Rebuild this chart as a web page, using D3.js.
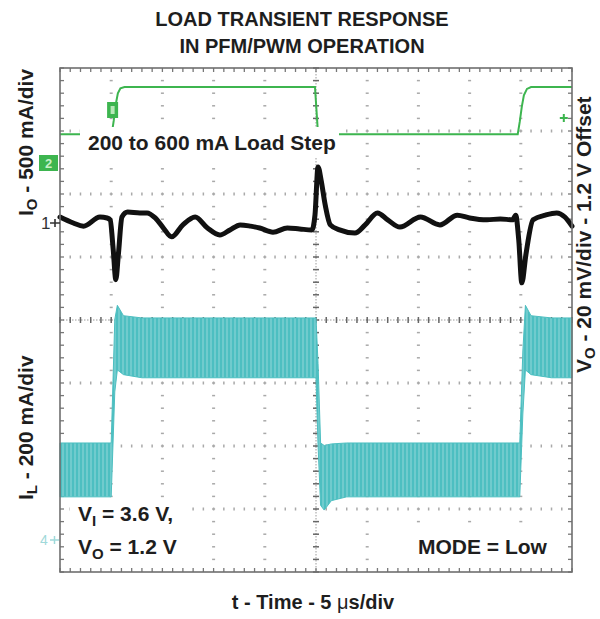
<!DOCTYPE html>
<html><head><meta charset="utf-8">
<script src="https://cdn.jsdelivr.net/npm/d3@7"></script>
<style>
body{margin:0;background:#fff}
svg{display:block}
text{font-family:"Liberation Sans",Arial,Helvetica,sans-serif;font-weight:bold;fill:#1e1e1e}
</style>
</head><body>
<svg id="chart" width="600" height="619"></svg>
<script>
// ---------------- data ----------------
// Load current I_O (mA) vs time (µs)
const ioTime  = [0, 5.05, 5.25, 5.45, 5.65, 5.9, 6.3, 24.9, 25.2, 44.7, 44.9, 45.1, 45.3, 45.6, 46.0, 50];
const ioValue = [220, 220, 330, 460, 545, 585, 595, 595, 220, 220, 320, 440, 530, 580, 595, 595];

// Output voltage deviation V_O (mV, around 1.2 V offset) vs time (µs)
const voTime  = [0, 1.3, 2.3, 3.9, 4.6, 4.9, 5.2, 5.45, 5.7, 6.05, 6.6, 7.8, 8.5, 9.3, 10.1, 10.9, 12.0, 13.2, 14.4, 15.6,
                 16.6, 17.6, 18.6, 19.5, 20.8, 22.2, 23.4, 24.6, 24.9, 25.2, 25.5, 25.9, 26.4, 27.3, 28.8, 29.8, 31.0, 32.0, 33.2, 35.2,
                 37.1, 38.8, 40.0, 41.7, 43.0, 44.2, 44.5, 44.8, 45.1, 45.5, 46.2, 47.4, 48.5, 49.3, 50];
const voValue = [1.9, 0, -1.0, 1.9, 1.6, 1.0, -8.6, -18, -10, 1.9, 3.5, 3.2, 3.2, 1.6, -1.6, -4.4, -0.6, 1.9, -1.6, -3.8,
                 -2.2, -0.6, -1.0, -1.6, -2.9, -1.6, -1.9, -2.2, 2.5, 17.8, 13.6, 5.7, -0.6, -2.2, -3.2, -0.6, 3.2, 1.0, -1.3, 1.9,
                 -0.6, 2.5, 1.6, 1.0, 1.3, 1.0, 2.5, -5.4, -19, -10, 1.0, 2.5, 3.2, 1.9, -1.0];

// Inductor current I_L ripple envelope (mA) vs time (µs)
const ilTime  = [0, 5.0, 5.35, 5.6, 6.2, 8.0, 25.0, 25.2, 25.45, 25.8, 26.5, 28.0, 44.9, 45.2, 45.45, 46.0, 48.0, 50];
const ilUpper = [308, 308, 700, 745, 712, 705, 705, 560, 308, 300, 305, 308, 308, 600, 745, 712, 705, 705];
const ilLower = [137, 137, 470, 540, 525, 515, 515, 300, 110, 95, 125, 137, 137, 400, 540, 525, 515, 515];

// Texts
const titleLines = ["LOAD TRANSIENT RESPONSE", "IN PFM/PWM OPERATION"];
const xLabel = ["t - Time - 5 ", "\u03bc", "s/div"];
const loadStepLabel = "200 to 600 mA Load Step";
const modeLabel = "MODE = Low";

// ---------------- layout ----------------
const svg = d3.select("#chart");
const X0 = 60, X1 = 572, Y0 = 68, Y1 = 572;
const NX = 10, NY = 8;
const dx = (X1 - X0) / NX, dy = (Y1 - Y0) / NY;

const x = d3.scaleLinear().domain([0, 50]).range([X0, X1]);          // 5 µs/div
const yIO = d3.scaleLinear().domain([0, 500]).range([162, 162 - dy]); // 500 mA/div
const yVO = d3.scaleLinear().domain([0, 20]).range([223, 223 - dy]);  // 20 mV/div
const yIL = d3.scaleLinear().domain([0, 200]).range([540, 540 - dy]); // 200 mA/div

// ---------------- graticule ----------------
const g = svg.append("g");
const minorX = d3.range(0, NX * 5 + 1).map(i => X0 + i * dx / 5);
const minorY = d3.range(0, NY * 5 + 1).map(i => Y0 + i * dy / 5);

for (let i = 1; i < NX; i++) {
  if (i === NX / 2) continue;
  const xx = X0 + i * dx;
  minorY.slice(1, -1).forEach(yy => g.append("line").attr("x1", xx - 1.5).attr("x2", xx + 1.5)
    .attr("y1", yy).attr("y2", yy).attr("stroke", "#a9a9a9").attr("stroke-width", 1.5));
}
for (let j = 1; j < NY; j++) {
  if (j === NY / 2) continue;
  const yy = Y0 + j * dy;
  minorX.slice(1, -1).forEach(xx => g.append("line").attr("x1", xx).attr("x2", xx)
    .attr("y1", yy - 1.5).attr("y2", yy + 1.5).attr("stroke", "#a9a9a9").attr("stroke-width", 1.5));
}
const cx = X0 + NX / 2 * dx, cy = Y0 + NY / 2 * dy;
g.append("line").attr("x1", X0).attr("x2", X1).attr("y1", cy).attr("y2", cy)
  .attr("stroke", "#9a9a9a").attr("stroke-width", 1).attr("stroke-dasharray", "1.5,1.5");
g.append("line").attr("x1", cx).attr("x2", cx).attr("y1", Y0).attr("y2", Y1)
  .attr("stroke", "#9a9a9a").attr("stroke-width", 1).attr("stroke-dasharray", "1.5,1.5");
minorX.forEach(xx => g.append("line").attr("x1", xx).attr("x2", xx).attr("y1", cy - 3).attr("y2", cy + 3)
  .attr("stroke", "#666").attr("stroke-width", 1.5));
minorY.forEach(yy => g.append("line").attr("x1", cx - 3).attr("x2", cx + 3).attr("y1", yy).attr("y2", yy)
  .attr("stroke", "#666").attr("stroke-width", 1.5));
minorX.forEach(xx => {
  g.append("line").attr("x1", xx).attr("x2", xx).attr("y1", Y0).attr("y2", Y0 + 4).attr("stroke", "#777").attr("stroke-width", 1.3);
  g.append("line").attr("x1", xx).attr("x2", xx).attr("y1", Y1).attr("y2", Y1 - 4).attr("stroke", "#777").attr("stroke-width", 1.3);
});
minorY.forEach(yy => {
  g.append("line").attr("x1", X0).attr("x2", X0 + 4).attr("y1", yy).attr("y2", yy).attr("stroke", "#777").attr("stroke-width", 1.3);
  g.append("line").attr("x1", X1).attr("x2", X1 - 4).attr("y1", yy).attr("y2", yy).attr("stroke", "#777").attr("stroke-width", 1.3);
});

// ---------------- traces ----------------
const defs = svg.append("defs");
const pat = defs.append("pattern").attr("id", "ripple").attr("patternUnits", "userSpaceOnUse")
  .attr("width", 4).attr("height", 10);
pat.append("rect").attr("width", 4).attr("height", 10).attr("fill", "#4dbfc1");
pat.append("rect").attr("x", 2.5).attr("width", 1).attr("height", 10).attr("fill", "#93d8d9");

const ilData = ilTime.map((t, i) => ({t, u: ilUpper[i], l: ilLower[i]}));
svg.append("path").datum(ilData)
  .attr("d", d3.area().x(d => x(d.t)).y0(d => yIL(d.l)).y1(d => yIL(d.u)))
  .attr("fill", "url(#ripple)").attr("stroke", "#4dbfc1").attr("stroke-width", 1);

const ioData = ioTime.map((t, i) => ({t, v: ioValue[i]}));
svg.append("path").datum(ioData)
  .attr("d", d3.line().x(d => x(d.t)).y(d => yIO(d.v)))
  .attr("fill", "none").attr("stroke", "#3db54f").attr("stroke-width", 2);

const voData = voTime.map((t, i) => ({t, v: voValue[i]}));
svg.append("path").datum(voData)
  .attr("d", d3.line().x(d => x(d.t)).y(d => yVO(d.v)).curve(d3.curveMonotoneX))
  .attr("fill", "none").attr("stroke", "#111").attr("stroke-width", 5)
  .attr("stroke-linejoin", "round").attr("stroke-linecap", "round");

svg.append("rect").attr("x", X0).attr("y", Y0).attr("width", X1 - X0).attr("height", Y1 - Y0)
  .attr("fill", "none").attr("stroke", "#6f6f6f").attr("stroke-width", 1.6);

// ---------------- channel markers ----------------
svg.append("rect").attr("x", 39).attr("y", yIO(0) - 7).attr("width", 19).attr("height", 16).attr("fill", "#3db54f");
svg.append("text").attr("x", 48.5).attr("y", yIO(0) + 6).attr("text-anchor", "middle")
  .style("font-size", "13px").style("fill", "#c8f0c8").text("2");
svg.append("rect").attr("x", x(4.6)).attr("y", 102).attr("width", 11).attr("height", 16).attr("fill", "#3db54f");
svg.append("rect").attr("x", x(4.6) + 3.5).attr("y", 106).attr("width", 4).attr("height", 8).attr("fill", "#b8e8b8");
svg.append("path").attr("d", `M${x(49.2) - 4},${118}h8M${x(49.2)},${114}v8`)
  .attr("stroke", "#3db54f").attr("stroke-width", 2);
svg.append("text").attr("x", 41).attr("y", yVO(0) + 6).style("font-size", "17px").style("font-weight", "normal")
  .style("fill", "#333").text("1");
svg.append("path").attr("d", `M50,${yVO(0)}h10M55,${yVO(0) - 4}v8`).attr("stroke", "#333").attr("stroke-width", 1.6);
svg.append("text").attr("x", 40).attr("y", yIL(0) + 5).style("font-size", "14px").style("font-weight", "normal")
  .style("fill", "#9fd9da").text("4");
svg.append("path").attr("d", `M50,${yIL(0)}h9M54.5,${yIL(0) - 4}v8`).attr("stroke", "#9fd9da").attr("stroke-width", 1.5);

// ---------------- annotation boxes ----------------
svg.append("rect").attr("x", 80).attr("y", 127).attr("width", 259).attr("height", 31).attr("fill", "#fff");
svg.append("text").attr("x", 88).attr("y", 150).style("font-size", "21px").text(loadStepLabel);

svg.append("rect").attr("x", 70).attr("y", 499).attr("width", 118).attr("height", 69).attr("fill", "#fff");
const t1 = svg.append("text").attr("x", 78).attr("y", 521).style("font-size", "21px");
t1.append("tspan").text("V");
t1.append("tspan").attr("dy", 5).style("font-size", "15px").text("I");
t1.append("tspan").attr("dy", -5).text(" = 3.6 V,");
const t2 = svg.append("text").attr("x", 78).attr("y", 554).style("font-size", "21px");
t2.append("tspan").text("V");
t2.append("tspan").attr("dy", 5).style("font-size", "15px").text("O");
t2.append("tspan").attr("dy", -5).text(" = 1.2 V");

svg.append("rect").attr("x", 410).attr("y", 533).attr("width", 146).attr("height", 30).attr("fill", "#fff");
svg.append("text").attr("x", 418).attr("y", 554).style("font-size", "21px").text(modeLabel);

// ---------------- titles and axis labels ----------------
titleLines.forEach((s, i) => svg.append("text").attr("x", 302).attr("y", 26 + i * 27)
  .attr("text-anchor", "middle").style("font-size", "20px").text(s));

const xl = svg.append("text").attr("x", 313).attr("y", 609).attr("text-anchor", "middle").style("font-size", "20px");
xl.append("tspan").text(xLabel[0]);
xl.append("tspan").style("font-weight", "normal").text(xLabel[1]);
xl.append("tspan").text(xLabel[2]);

function rotLabel(tx, ty, main, sub, rest, fs) {
  const t = svg.append("text").attr("transform", `translate(${tx},${ty}) rotate(-90)`).style("font-size", fs + "px");
  t.append("tspan").text(main);
  t.append("tspan").attr("dy", 4).style("font-size", "15px").text(sub);
  t.append("tspan").attr("dy", -4).text(rest);
}
rotLabel(33, 216, "I", "O", " - 500 mA/div", 21);
rotLabel(33, 500, "I", "L", " - 200 mA/div", 21);
rotLabel(591, 373, "V", "O", " - 20 mV/div - 1.2 V Offset", 21);
</script>
</body></html>
